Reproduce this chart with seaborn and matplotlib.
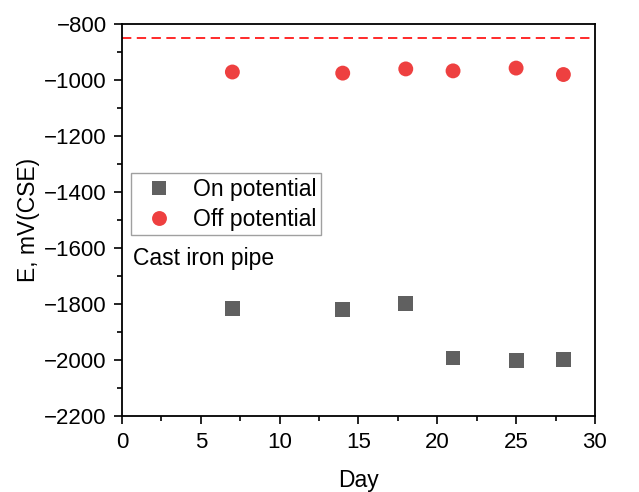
import matplotlib
matplotlib.use("Agg")
from matplotlib import pyplot as plt
from matplotlib.ticker import MultipleLocator
import pandas as pd
import seaborn as sns

days = [7, 14, 18, 21, 25, 28]
on_potential = [-1814, -1819, -1799, -1992, -2000, -1996]
off_potential = [-971, -975, -960, -967, -957, -980]
criterion = -850  # -850 mV CSE protection criterion

sns.set_theme(style="ticks")
plt.rcParams['font.family'] = ['Liberation Sans', 'DejaVu Sans']
plt.rcParams.update({'text.color': 'black', 'axes.labelcolor': 'black',
                     'xtick.color': 'black', 'ytick.color': 'black',
                     'axes.edgecolor': 'black'})

df = pd.DataFrame({
    "Day": days * 2,
    "E": on_potential + off_potential,
    "series": ["On potential"] * len(days) + ["Off potential"] * len(days),
})

fig, ax = plt.subplots(figsize=(6.39, 4.92), dpi=100)
fig.subplots_adjust(left=0.191, right=0.931, top=0.951, bottom=0.154)

sns.scatterplot(data=df, x="Day", y="E", hue="series", style="series",
                markers={"On potential": "s", "Off potential": "o"},
                palette={"On potential": "#606060", "Off potential": "#ee4040"},
                s=115, linewidth=0, ax=ax)
ax.axhline(criterion, color="#ff2a2a", linestyle=(0, (4.8, 2.8)), linewidth=1.4)

ax.set_xlim(0, 30)
ax.set_ylim(-2200, -800)
ax.xaxis.set_major_locator(MultipleLocator(5))
ax.xaxis.set_minor_locator(MultipleLocator(2.5))
ax.yaxis.set_major_locator(MultipleLocator(200))
ax.yaxis.set_minor_locator(MultipleLocator(100))
ax.tick_params(which="major", length=6, width=1.2, labelsize=16, pad=5)
ax.tick_params(which="minor", length=3.5, width=1.2)
for sp in ax.spines.values():
    sp.set_linewidth(1.3)

ax.set_xlabel("Day", fontsize=16.5, labelpad=12)
ax.set_ylabel("E, mV(CSE)", fontsize=16.5, labelpad=3)

leg = ax.legend(loc="upper left", bbox_to_anchor=(0.019, 0.62), borderaxespad=0,
                fontsize=16.5, frameon=True, fancybox=False, edgecolor="#888888",
                handlelength=2.0, handletextpad=0.5, borderpad=0.2, labelspacing=0.3,
                markerscale=1.0)
leg.get_frame().set_linewidth(1.0)

ax.text(0.023, 0.385, "Cast iron pipe", transform=ax.transAxes, fontsize=16.5,
        va="baseline")

fig.savefig("out.png", dpi=100)
